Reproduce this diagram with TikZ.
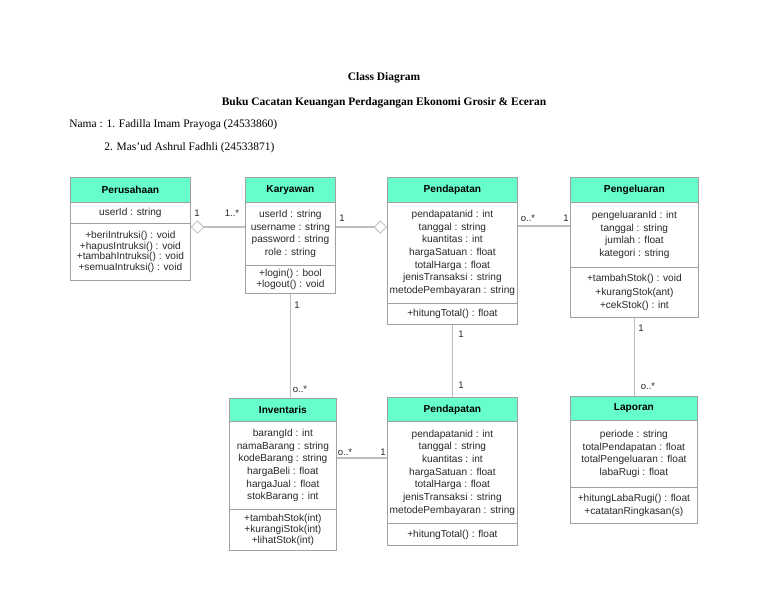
\documentclass[tikz,border=0pt]{standalone}
\usepackage{fontspec}
\setmainfont{Liberation Serif}
\newfontfamily\arial{Liberation Sans}
\usetikzlibrary{arrows.meta}
\definecolor{hdrc}{RGB}{102,255,204}
\definecolor{bordc}{RGB}{160,160,160}
\definecolor{linec}{RGB}{190,190,190}
\definecolor{txtc}{RGB}{40,40,40}
\tikzset{
  box/.style={draw=bordc, line width=0.6pt, inner sep=0pt, anchor=north west, align=center, text=txtc},
  hdr/.style={box, fill=hdrc, font=\arial\bfseries\fontsize{7.6}{9}\selectfont, text=black},
  sec/.style={box, fill=white, font=\arial\fontsize{7.6}{9.5}\selectfont},
  msec/.style={box, fill=white, font=\arial\fontsize{7.6}{8.2}\selectfont},
  conn/.style={draw=linec, line width=0.9pt},
  dia/.tip={Diamond[open,length=10pt,width=10pt,line width=0.6pt]},
  lbl/.style={font=\arial\fontsize{7.2}{8}\selectfont, text=txtc, inner sep=0pt},
  ttl/.style={font=\bfseries\fontsize{8.6}{10}\selectfont, inner sep=0pt},
  nm/.style={font=\fontsize{8.6}{10}\selectfont, inner sep=0pt, anchor=west}
}
\begin{document}
\begin{tikzpicture}[x=0.75pt,y=-0.75pt]
\useasboundingbox (0,0) rectangle (768,594);
\fill[white] (0,0) rectangle (768,594);

\node[ttl] (t1) at (384,78) {Class Diagram};
\node[ttl] (t2) at (384,103) {Buku Cacatan Keuangan Perdagangan Ekonomi Grosir \& Eceran};
\node[nm] (n1) at (69,125) {Nama : 1. Fadilla Imam Prayoga (24533860)};
\node[nm] (n2) at (104,148) {2. Mas’ud Ashrul Fadhli (24533871)};

% Perusahaan
\node[hdr, minimum width=90pt, minimum height=18.75pt] (perH) at (70,177) {Perusahaan};
\node[sec, minimum width=90pt, minimum height=15.75pt] (perA) at (70,202) {userId : string};
\node[msec, minimum width=90pt, minimum height=42.75pt] (perM) at (70,223) {+beriIntruksi() : void\\+hapusIntruksi() : void\\+tambahIntruksi() : void\\+semuaIntruksi() : void};

% Karyawan
\node[hdr, minimum width=67.5pt, minimum height=18.75pt] (karH) at (245,177) {Karyawan};
\node[sec, minimum width=67.5pt, minimum height=47.25pt] (karA) at (245,202) {userId : string\\username : string\\password : string\\role : string};
\node[msec, minimum width=67.5pt, minimum height=21pt] (karM) at (245,265) {+login() : bool\\+logout() : void};

% Pendapatan
\node[hdr, minimum width=97.5pt, minimum height=18.75pt] (pdH) at (387,177) {Pendapatan};
\node[sec, minimum width=97.5pt, minimum height=75.75pt] (pdA) at (387,202) {pendapatanid : int\\tanggal : string\\kuantitas : int\\hargaSatuan : float\\totalHarga : float\\jenisTransaksi : string\\metodePembayaran : string};
\node[msec, minimum width=97.5pt, minimum height=15.75pt] (pdM) at (387,303) {+hitungTotal() : float};

% Pengeluaran
\node[hdr, minimum width=96pt, minimum height=18.75pt] (pgH) at (570,177) {Pengeluaran};
\node[sec, minimum width=96pt, minimum height=48.75pt] (pgA) at (570,202) {pengeluaranId : int\\tanggal : string\\jumlah : float\\kategori : string};
\node[sec, minimum width=96pt, minimum height=37.5pt, font=\arial\fontsize{7.6}{10}\selectfont] (pgM) at (570,267) {+tambahStok() : void\\+kurangStok(ant)\\+cekStok() : int};

% Inventaris
\node[hdr, minimum width=80.25pt, minimum height=17.25pt] (invH) at (229,398) {Inventaris};
\node[sec, minimum width=80.25pt, minimum height=66pt] (invA) at (229,421) {barangId : int\\namaBarang : string\\kodeBarang : string\\hargaBeli : float\\hargaJual : float\\stokBarang : int};
\node[msec, minimum width=80.25pt, minimum height=30.75pt, font=\arial\fontsize{7.6}{8.5}\selectfont] (invM) at (229,509) {+tambahStok(int)\\+kurangiStok(int)\\+lihatStok(int)};

% Pendapatan 2
\node[hdr, minimum width=97.5pt, minimum height=18pt] (pd2H) at (387,397) {Pendapatan};
\node[sec, minimum width=97.5pt, minimum height=76.5pt] (pd2A) at (387,421) {pendapatanid : int\\tanggal : string\\kuantitas : int\\hargaSatuan : float\\totalHarga : float\\jenisTransaksi : string\\metodePembayaran : string};
\node[msec, minimum width=97.5pt, minimum height=16.5pt] (pd2M) at (387,523) {+hitungTotal() : float};

% Laporan
\node[hdr, minimum width=95.25pt, minimum height=18pt] (lapH) at (570,396) {Laporan};
\node[sec, minimum width=95.25pt, minimum height=50.25pt] (lapA) at (570,420) {periode : string\\totalPendapatan : float\\totalPengeluaran : float\\labaRugi : float};
\node[sec, minimum width=95.25pt, minimum height=27pt] (lapM) at (570,487) {+hitungLabaRugi() : float\\+catatanRingkasan(s)};

% connectors
\coordinate (c1) at ([yshift=-3pt]perM.north east);
\draw[conn, dia-] (c1) -- (c1 -| karA.west);
\coordinate (c2) at ([yshift=-18.75pt]karA.north east);
\draw[conn, -dia] (c2) -- (c2 -| pdA.west);
\coordinate (c3) at ([yshift=-18pt]pdA.north east);
\draw[conn] (c3) -- (c3 -| pgA.west);
\coordinate (c4) at ([yshift=-27.75pt]invA.north east);
\draw[conn] (c4) -- (c4 -| pd2A.west);
\draw[conn] (karM.south) -- (karM.south |- invH.north);
\draw[conn] (pdM.south) -- (pdM.south |- pd2H.north);
\draw[conn] (pgM.south) -- (pgM.south |- lapH.north);

% multiplicities
\node[lbl] (m1) at (197,213) {1};
\node[lbl] (m2) at (232,213) {1..*};
\node[lbl] (m3) at (342,218) {1};
\node[lbl] (m4) at (528,218) {o..*};
\node[lbl] (m5) at (566,218) {1};
\node[lbl] (m6) at (297,305) {1};
\node[lbl] (m7) at (300,389) {o..*};
\node[lbl] (m8) at (461,334) {1};
\node[lbl] (m9) at (461,385) {1};
\node[lbl] (m10) at (641,328) {1};
\node[lbl] (m11) at (648,386) {o..*};
\node[lbl] (m12) at (345,452) {o..*};
\node[lbl] (m13) at (383,452) {1};
\end{tikzpicture}
\end{document}
